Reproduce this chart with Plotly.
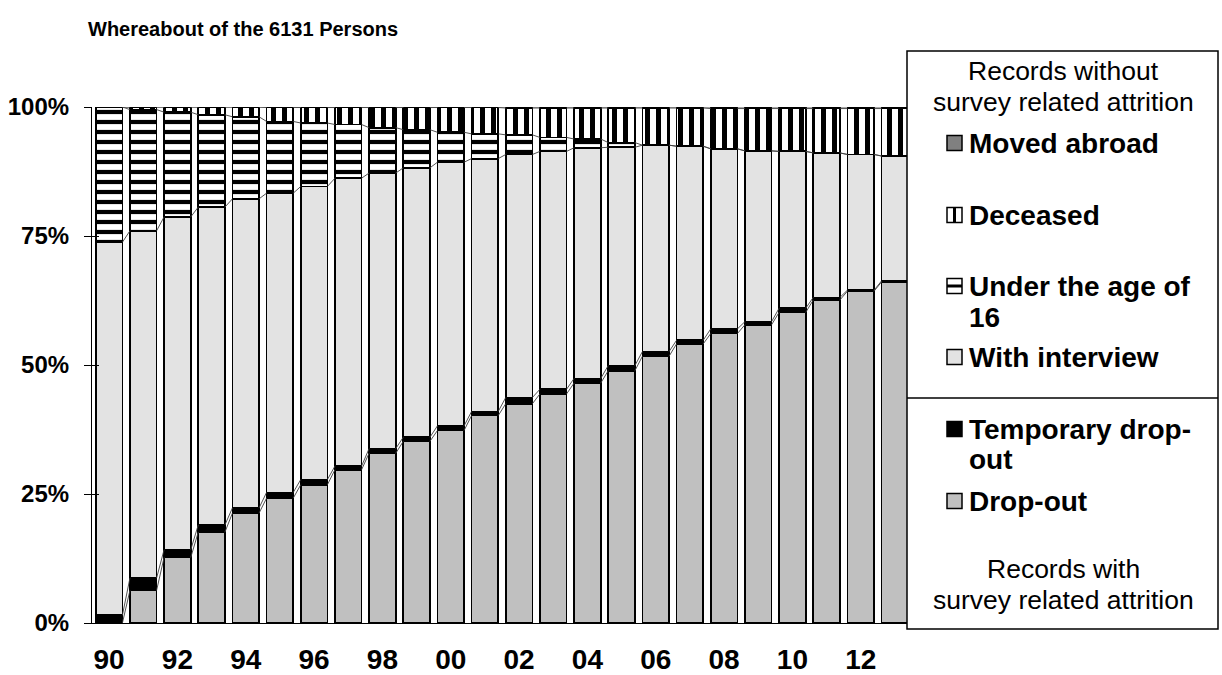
import plotly.graph_objects as go

# ---------------- data (percent of the 6131 persons) ----------------
years = list(range(1990, 2014))
drop_out = [0.0, 6.3, 12.7, 17.6, 21.3, 24.2, 26.8, 29.7, 32.9, 35.2, 37.3, 40.2,
            42.5, 44.4, 46.5, 48.9, 51.7, 54.1, 56.1, 57.8, 60.2, 62.6, 64.3, 66.1]
temporary_drop_out = [1.5, 2.4, 1.5, 1.4, 1.0, 1.1, 1.0, 0.7, 0.9, 0.8, 0.9, 0.8,
                      1.2, 0.9, 0.9, 1.0, 0.9, 0.7, 0.9, 0.6, 0.8, 0.5, 0.2, 0.2]
with_interview = [72.3, 67.3, 64.5, 61.6, 59.9, 58.0, 56.8, 55.8, 53.4, 52.2, 51.1, 49.0,
                  47.1, 46.1, 44.7, 42.3, 40.0, 37.6, 34.9, 33.1, 30.4, 28.0, 26.3, 24.2]
under_16 = [26.2, 23.5, 20.3, 17.9, 15.9, 13.9, 12.3, 10.4, 8.8, 7.4, 5.8, 4.8,
            3.8, 2.7, 1.7, 0.9, 0.0, 0.0, 0.0, 0.0, 0.0, 0.0, 0.0, 0.0]
deceased = [0.0, 0.5, 1.0, 1.5, 1.9, 2.7, 3.0, 3.3, 3.9, 4.3, 4.8, 5.1,
            5.2, 5.7, 6.0, 6.7, 7.2, 7.4, 7.8, 8.2, 8.3, 8.6, 8.9, 9.2]
moved_abroad = [0.0, 0.0, 0.0, 0.0, 0.0, 0.1, 0.1, 0.1, 0.1, 0.1, 0.1, 0.1,
                0.2, 0.2, 0.2, 0.2, 0.2, 0.2, 0.3, 0.3, 0.3, 0.3, 0.3, 0.3]

x_tick_vals = [1990, 1992, 1994, 1996, 1998, 2000, 2002, 2004, 2006, 2008, 2010, 2012]
x_tick_text = ["90", "92", "94", "96", "98", "00", "02", "04", "06", "08", "10", "12"]
y_tick_vals = [0, 25, 50, 75, 100]
y_tick_text = ["0%", "25%", "50%", "75%", "100%"]

title_text = "Whereabout of the 6131 Persons"
header_top = ["Records without", "survey related attrition"]
header_bottom = ["Records with", "survey related attrition"]

# ---------------- geometry ----------------
FONT = "Arial, 'Liberation Sans', sans-serif"
W, H = 1222, 675
L, R, T, B = 92, 310, 107, 52
PW, PH = W - L - R, H - T - B
BAR_W = 0.78

def px_x(p):  # screen px -> paper x
    return (p - L) / PW

def px_y(p):  # screen px -> paper y
    return (H - B - p) / PH

series = [
    ("Drop-out", drop_out, dict(color="#c0c0c0")),
    ("Temporary drop-out", temporary_drop_out, dict(color="#000000")),
    ("With interview", with_interview, dict(color="#e3e3e3")),
    ("Under the age of 16", under_16,
     dict(color="#ffffff", pattern=dict(shape="-", fgcolor="#000000", bgcolor="#ffffff",
                                        size=10, solidity=0.42, fillmode="replace"))),
    ("Deceased", deceased,
     dict(color="#ffffff", pattern=dict(shape="|", fgcolor="#000000", bgcolor="#ffffff",
                                        size=11, solidity=0.45, fillmode="replace"))),
    ("Moved abroad", moved_abroad, dict(color="#808080")),
]

fig = go.Figure()
for name, vals, mk in series:
    mk = dict(mk)
    mk["line"] = dict(color="#000000", width=1.8)
    fig.add_trace(go.Bar(x=years, y=vals, name=name, width=BAR_W, marker=mk,
                         showlegend=False))

# series lines joining the tops of each stacked segment between neighbouring bars
totals = [sum(s[1][i] for s in series) for i in range(len(years))]
cum = [0.0] * len(years)
for name, vals, mk in series:
    cum = [cum[i] + vals[i] for i in range(len(years))]
    xs, ys = [], []
    for i in range(len(years) - 1):
        xs += [years[i] + BAR_W / 2, years[i + 1] - BAR_W / 2, None]
        ys += [cum[i] / totals[i] * 100, cum[i + 1] / totals[i + 1] * 100, None]
    fig.add_trace(go.Scatter(x=xs, y=ys, mode="lines", line=dict(color="#404040", width=0.9),
                             showlegend=False, hoverinfo="skip"))

fig.update_layout(
    width=W, height=H,
    margin=dict(l=L, r=R, t=T, b=B, autoexpand=False),
    barmode="stack", barnorm="percent",
    plot_bgcolor="#ffffff", paper_bgcolor="#ffffff",
    font=dict(family=FONT, color="#000000"),
    title=dict(text="<b>" + title_text + "</b>", font=dict(size=20, family=FONT),
               x=88 / W, xref="container", xanchor="left",
               y=1 - 29 / H, yref="container", yanchor="middle"),
    xaxis=dict(range=[1989.5, 2013.5], tickvals=x_tick_vals, ticktext=x_tick_text,
               automargin=False,
               showgrid=False, zeroline=False, showline=True, linecolor="#000000",
               linewidth=1.2, ticks="", ticklabelstandoff=11,
               tickfont=dict(size=28, family=FONT, weight="bold")),
    yaxis=dict(range=[0, 100], tickvals=y_tick_vals, ticktext=y_tick_text,
               automargin=False,
               showgrid=False, zeroline=False, showline=True, linecolor="#000000",
               linewidth=1.2, ticks="outside", ticklen=7, tickcolor="#000000",
               ticklabelstandoff=10,
               tickfont=dict(size=24, family=FONT, weight="bold")),
    yaxis2=dict(range=[0, 100], overlaying="y", tickvals=y_tick_vals, showticklabels=False,
                automargin=False,
                ticks="inside", ticklen=7, tickcolor="#000000", showgrid=False,
                zeroline=False, showline=False),
    showlegend=False,
)
# invisible trace that activates yaxis2 (inner half of the crossing ticks)
fig.add_trace(go.Scatter(x=[years[0]], y=[0], yaxis="y2", mode="markers",
                         marker=dict(opacity=0), showlegend=False, hoverinfo="skip"))

# ---------------- custom legend box ----------------
shapes = []
annotations = []
BOX_L, BOX_R, BOX_T, BOX_B, DIV = 907, 1218, 51, 629, 398
shapes.append(dict(type="rect", xref="paper", yref="paper",
                   x0=px_x(BOX_L), x1=px_x(BOX_R), y0=px_y(BOX_B), y1=px_y(BOX_T),
                   line=dict(color="#000000", width=1.5), fillcolor="#ffffff", layer="above"))
shapes.append(dict(type="line", xref="paper", yref="paper",
                   x0=px_x(BOX_L), x1=px_x(BOX_R), y0=px_y(DIV), y1=px_y(DIV),
                   line=dict(color="#000000", width=1.5), layer="above"))

CX = 1063
for txt, yc in zip(header_top, [71, 102]):
    annotations.append(dict(text=txt, xref="paper", yref="paper", x=px_x(CX), y=px_y(yc),
                            xanchor="center", yanchor="middle", showarrow=False,
                            font=dict(size=26.5, family=FONT)))
for txt, yc in zip(header_bottom, [569, 600]):
    annotations.append(dict(text=txt, xref="paper", yref="paper", x=px_x(CX), y=px_y(yc),
                            xanchor="center", yanchor="middle", showarrow=False,
                            font=dict(size=26.5, family=FONT)))

SW_X0, SW_X1, TXT_X = 947, 962, 967
legend_items = [
    (["Moved abroad"], [143], "solid", "#808080"),
    (["Deceased"], [215], "vbar", None),
    (["Under the age of", "16"], [286, 317], "hbar", None),
    (["With interview"], [357], "solid", "#e3e3e3"),
    (["Temporary drop-", "out"], [429, 459], "solid", "#000000"),
    (["Drop-out"], [501], "solid", "#c0c0c0"),
]
for lines, ycs, kind, col in legend_items:
    yc = ycs[0]
    y0, y1 = yc - 7.5, yc + 7.5
    fill = col if kind == "solid" else "#ffffff"
    shapes.append(dict(type="rect", xref="paper", yref="paper",
                       x0=px_x(SW_X0), x1=px_x(SW_X1), y0=px_y(y1), y1=px_y(y0),
                       line=dict(color="#000000", width=1.5), fillcolor=fill, layer="above"))
    if kind == "vbar":
        xm = (SW_X0 + SW_X1) / 2
        shapes.append(dict(type="line", xref="paper", yref="paper",
                           x0=px_x(xm), x1=px_x(xm), y0=px_y(y1), y1=px_y(y0),
                           line=dict(color="#000000", width=3), layer="above"))
    if kind == "hbar":
        shapes.append(dict(type="line", xref="paper", yref="paper",
                           x0=px_x(SW_X0), x1=px_x(SW_X1), y0=px_y(yc), y1=px_y(yc),
                           line=dict(color="#000000", width=3), layer="above"))
    for txt, ty in zip(lines, ycs):
        annotations.append(dict(text="<b>" + txt + "</b>", xref="paper", yref="paper",
                                x=px_x(TXT_X), y=px_y(ty), xanchor="left", yanchor="middle",
                                align="left", showarrow=False,
                                font=dict(size=28, family=FONT)))

fig.update_layout(shapes=shapes, annotations=annotations)
# the page body normally keeps an 8px margin; drop it so the figure fills the window exactly
fig.write_html("out.html", config={"displayModeBar": False},
               post_script="document.body.style.margin='0';")
